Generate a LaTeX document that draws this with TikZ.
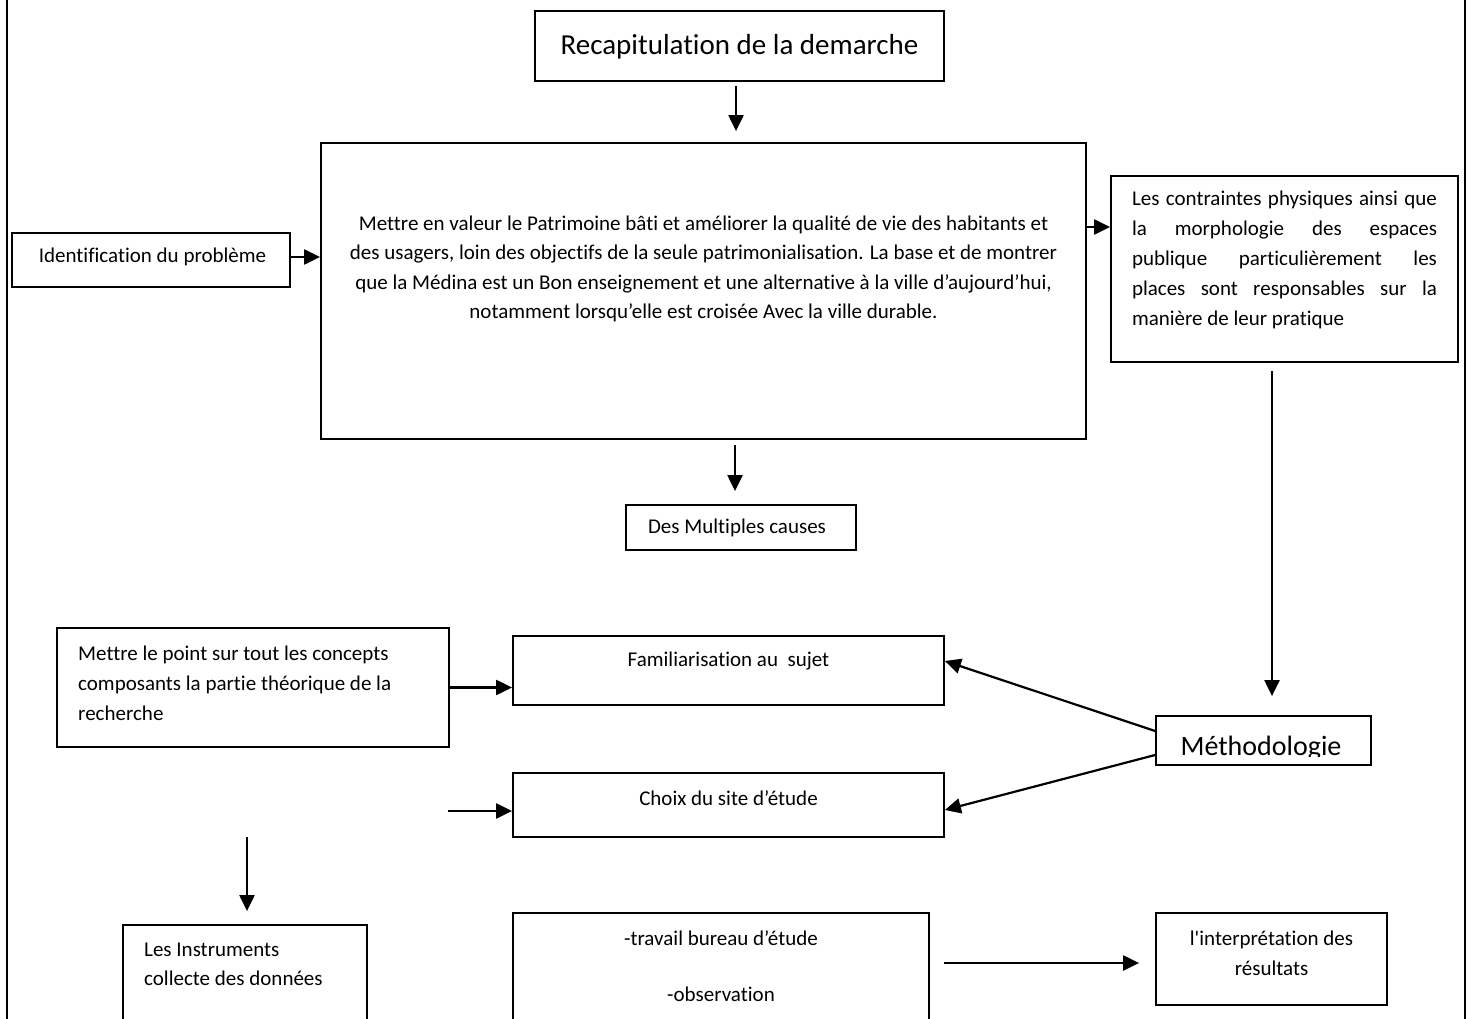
\documentclass[tikz,border=0pt]{standalone}
\usepackage{fontspec}
\newfontfamily\calib{Carlito}[Ligatures={NoCommon}]
\usetikzlibrary{arrows.meta,calc}
\begin{document}
\begin{tikzpicture}[x=1pt,y=-1pt,
  box/.style={draw, line width=1.8pt, inner sep=0pt},
  txt/.style={font=\calib\fontsize{21}{29.5}\selectfont, inner sep=0pt},
  arr/.style={line width=2.2pt, -{Triangle[length=16pt,width=15pt]}},
  frame/.style={line width=2pt}]
\clip (0,0) rectangle (1467,1019);
\fill[white] (0,0) rectangle (1467,1019);
% frame
\draw[frame] (7,-5) -- (7,1030);
\draw[frame] (1465,-5) -- (1465,1030);
% boxes
\node[box, minimum width=409pt, minimum height=70pt] (title) at (739.5,46) {};
\node[box, minimum width=765pt, minimum height=296pt] (main) at (703.5,291) {};
\node[box, minimum width=278pt, minimum height=54pt] (ident) at (151,260) {};
\node[box, minimum width=347pt, minimum height=186pt] (contr) at (1284.5,269) {};
\node[box, minimum width=230pt, minimum height=45pt] (causes) at (741,527.5) {};
\node[box, minimum width=392pt, minimum height=119pt] (mettre) at (253,687.5) {};
\node[box, minimum width=431pt, minimum height=69pt] (famil) at (728.5,670.5) {};
\node[box, minimum width=431pt, minimum height=64pt] (choix) at (728.5,805) {};
\node[box, minimum width=215pt, minimum height=49pt] (meth) at (1263.5,740.5) {};
\node[box, minimum width=244pt, minimum height=115pt] (instr) at (245,982.5) {};
\node[box, minimum width=416pt, minimum height=127pt] (trav) at (721,976.5) {};
\node[box, minimum width=231pt, minimum height=92pt] (interp) at (1271.5,959) {};
% texts
\node[txt, font=\calib\fontsize{29}{35}\selectfont] (titleT) at (739.5,47) {Recapitulation de la demarche};
\node[txt, align=center] (mainT) at (703.5,269) {Mettre en valeur le Patrimoine bâti et améliorer la qualité de vie des habitants et\\des usagers, loin des objectifs de la seule patrimonialisation. La base et de montrer\\que la Médina est un Bon enseignement et une alternative à la ville d’aujourd’hui,\\notamment lorsqu’elle est croisée Avec la ville durable.};
\node[txt] (identT) at (152.5,257) {Identification du problème};
\node[txt, font=\calib\fontsize{21}{30}\selectfont, text width=305pt, align=justify] (contrT) at (1284.5,260) {Les contraintes physiques ainsi que\linebreak la morphologie des espaces\linebreak publique particulièrement les\linebreak places sont responsables sur la\linebreak manière de leur pratique};
\node[txt] (causesT) at (737,528) {Des Multiples causes};
\node[txt, font=\calib\fontsize{21}{30}\selectfont, align=left, anchor=west] (mettreT) at (78,683) {Mettre le point sur tout les concepts\\composants la partie théorique de la\\recherche};
\node[txt] (familT) at (728.5,661) {Familiarisation au\ \ sujet};
\node[txt] (choixT) at (728.5,798) {Choix du site d’étude};
\node[txt, font=\calib\fontsize{21}{29}\selectfont, align=left, anchor=west] (instrT) at (144,964.5) {Les Instruments\\collecte des données};
\node[txt, font=\calib\fontsize{21}{56}\selectfont, align=center] (travT) at (721,966) {-travail bureau d’étude\\-observation};
\node[txt, font=\calib\fontsize{21}{30}\selectfont, align=center] (interpT) at (1271.5,953) {l'interprétation des\\résultats};
\begin{scope}
  \clip (meth.north west) rectangle ($(meth.south east)+(0,-9)$);
  \node[txt, font=\calib\fontsize{28}{34}\selectfont, anchor=base] (methT) at (1261,755) {Méthodologie};
\end{scope}
% connectors
\coordinate (xa) at (736,0);
\coordinate (xb) at (735,0);
\coordinate (xc) at (1272,0);
\coordinate (ya) at (0,227);
\coordinate (yb) at (0,963);
\coordinate (yc) at (0,257);
\coordinate (f1) at (448,811);
\coordinate (f2) at (247,837);
\draw[arr, shorten <=4pt, shorten >=11pt] (title.south -| xa) -- (main.north -| xa);
\draw[arr, shorten <=5pt, shorten >=13pt] (main.south -| xb) -- (causes.north -| xb);
\draw[arr] (ident.east |- yc) -- (main.west |- yc);
\draw[arr] (main.east |- ya) -- (contr.west |- ya);
\draw[arr, shorten <=8pt, shorten >=19pt] (contr.south -| xc) -- (meth.north -| xc);
\draw[arr] (mettre.east) -- (famil.west |- mettre.east);
\draw[arr] (f1) -- (choix.west |- f1);
\draw[arr] ($(meth.west)+(0,-9.5)$) -- ($(famil.east)+(0,-9.5)$);
\draw[arr] ($(meth.west)+(0,14.5)$) -- ($(choix.east)+(0,5)$);
\draw[arr, shorten >=13pt] (f2) -- (instr.north -| f2);
\draw[arr, shorten <=14pt, shorten >=16pt] (trav.east |- yb) -- (interp.west |- yb);
\end{tikzpicture}
\end{document}
